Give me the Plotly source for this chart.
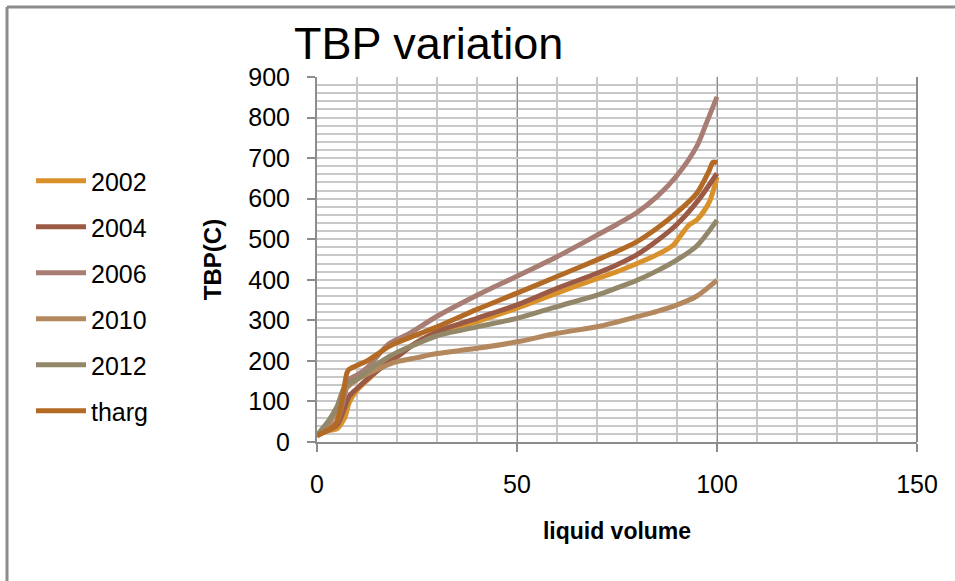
import plotly.graph_objects as go

# ---------------- data ----------------
series_names = ["2002", "2004", "2006", "2010", "2012", "tharg"]
colors = ["#D9922B", "#9A5A45", "#A87E74", "#B4885F", "#938769", "#B36A25"]

x_2002 = [0, 3, 5, 7, 8, 10, 15, 18, 20, 25, 30, 40, 50, 60, 70, 75, 80, 85, 89, 91, 93, 95, 98, 100]
y_2002 = [17, 28, 33, 62, 96, 128, 175, 210, 219, 245, 268, 297, 330, 367, 403, 420, 440, 462, 485, 510, 535, 548, 590, 654]

x_2004 = [0, 3, 5, 7, 8, 10, 15, 20, 25, 30, 40, 50, 60, 70, 75, 80, 85, 90, 95, 100]
y_2004 = [17, 30, 42, 87, 112, 132, 175, 210, 246, 272, 305, 338, 379, 416, 437, 462, 496, 537, 592, 662]

x_2006 = [0, 3, 5, 7, 8, 10, 12.5, 18, 23, 30, 40, 50, 60, 70, 75, 80, 85, 90, 95, 97.5, 100]
y_2006 = [17, 35, 50, 120, 154, 165, 183, 242, 267, 310, 362, 409, 457, 510, 537, 566, 605, 657, 730, 790, 851]

x_2010 = [0, 3, 5, 7, 10, 15, 20, 25, 30, 40, 50, 60, 70, 75, 80, 85, 90, 95, 100]
y_2010 = [17, 46, 79, 129, 154, 179, 198, 208, 218, 231, 247, 268, 284, 296, 309, 322, 338, 360, 399]

x_2012 = [0, 3, 5, 7, 10, 15, 20, 25, 30, 40, 50, 60, 70, 75, 80, 85, 90, 95, 100]
y_2012 = [17, 54, 87, 137, 155, 192, 221, 242, 262, 284, 305, 334, 362, 380, 399, 422, 449, 484, 547]

x_tharg = [0, 3.3, 4.6, 5.8, 7.5, 8, 12.5, 18.3, 23.3, 30, 40, 50, 60, 70, 75, 80, 85, 90, 95, 98, 99, 100]
y_tharg = [15, 33, 42, 79, 171, 179, 200, 237, 258, 284, 327, 367, 408, 449, 470, 494, 527, 566, 614, 668, 690, 688]

xs = [x_2002, x_2004, x_2006, x_2010, x_2012, x_tharg]
ys = [y_2002, y_2004, y_2006, y_2010, y_2012, y_tharg]

x_ticks = [0, 50, 100, 150]
y_ticks = [0, 100, 200, 300, 400, 500, 600, 700, 800, 900]

# ---------------- figure ----------------
W, H = 955, 581
L, R, T, B = 317, 917, 77, 442

fig = go.Figure()
for name, c, x, y in zip(series_names, colors, xs, ys):
    fig.add_trace(go.Scatter(x=x, y=y, name=name, mode="lines", legendgroup=name,
                             line=dict(color=c, width=5, shape="spline", smoothing=0.8)))

font_main = "Liberation Sans, Arial, sans-serif"

def px_x(p):
    return (p - L) / (R - L)

def px_y(p):
    return (B - p) / (B - T)

fig.update_layout(
    width=W, height=H,
    margin=dict(l=L, r=W - R, t=T, b=H - B),
    paper_bgcolor="white", plot_bgcolor="white",
    font=dict(family=font_main, color="black", size=21),
    title=dict(text="TBP variation", x=294 / W, xanchor="left",
               y=1 - 43 / H, yanchor="middle",
               font=dict(size=45, family=font_main, color="black")),
    showlegend=True,
    legend=dict(x=px_x(31), xanchor="left", y=px_y(158), yanchor="top",
                font=dict(size=25, family=font_main),
                tracegroupgap=10.5, itemwidth=50, bgcolor="rgba(0,0,0,0)"),
    xaxis=dict(range=[0, 150], tickvals=x_ticks, showgrid=True, gridcolor="#8c8c8c", gridwidth=1,
               zeroline=False, showline=True, linecolor="#8c8c8c", linewidth=2,
               ticks="outside", ticklen=8, tickcolor="#8c8c8c", tickwidth=2,
               ticklabelstandoff=11,
               minor=dict(dtick=10, showgrid=True, gridcolor="#c8c8c8", gridwidth=2),
               title=dict(text="<b>liquid volume</b>", standoff=26,
                          font=dict(size=23, family=font_main)),
               tickfont=dict(size=25, family=font_main),
               ),
    yaxis=dict(range=[0, 900], tickvals=y_ticks, showgrid=True, gridcolor="#c8c8c8", gridwidth=2,
               zeroline=False, showline=True, linecolor="#8c8c8c", linewidth=2,
               ticks="outside", ticklen=8, tickcolor="#8c8c8c", tickwidth=2,
               ticklabelstandoff=12,
               minor=dict(dtick=20, showgrid=True, gridcolor="#c8c8c8", gridwidth=2),
               title=dict(text="<b>TBP(C)</b>", standoff=20,
                          font=dict(size=24, family=font_main)),
               tickfont=dict(size=25, family=font_main),
               ),
    shapes=[
        dict(type="line", xref="paper", yref="paper", x0=px_x(7), x1=px_x(960), y0=px_y(7), y1=px_y(7),
             line=dict(color="#8c8c8c", width=3)),
        dict(type="line", xref="paper", yref="paper", x0=px_x(7), x1=px_x(7), y0=px_y(7), y1=px_y(590),
             line=dict(color="#8c8c8c", width=3)),
        dict(type="line", xref="paper", yref="paper", x0=1, x1=1, y0=0, y1=1,
             line=dict(color="#8c8c8c", width=2)),
    ],
)

fig.write_html("out.html")
